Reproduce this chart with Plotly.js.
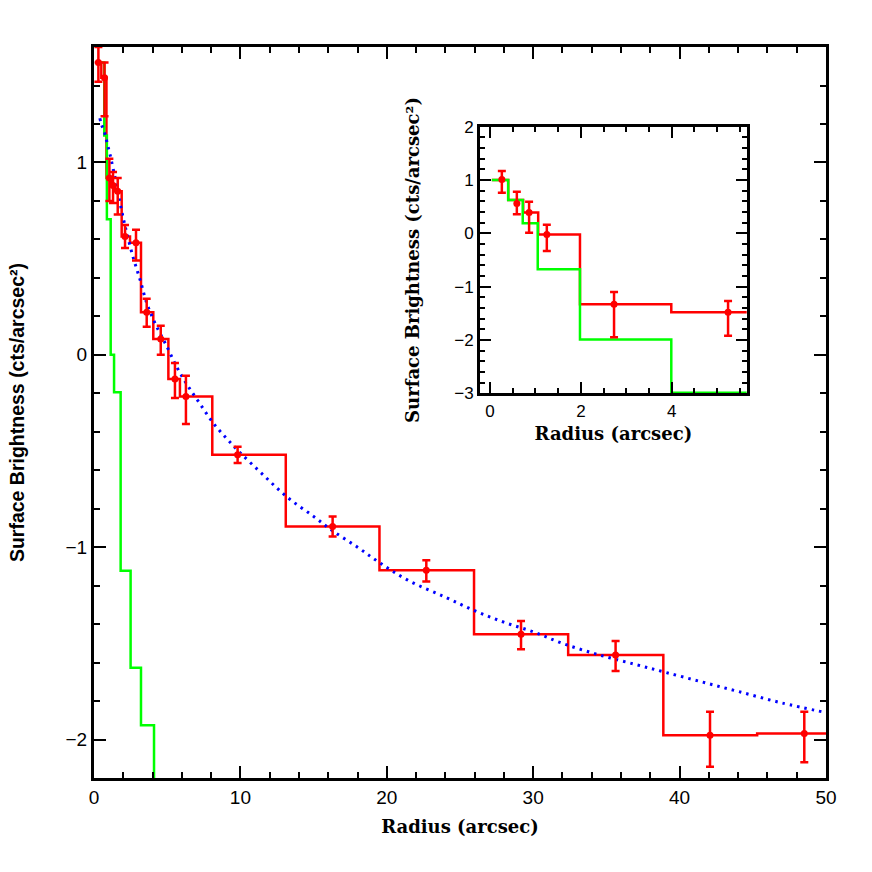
<!DOCTYPE html>
<html>
<head>
<meta charset="utf-8">
<script src="https://cdn.plot.ly/plotly-3.0.1.min.js"></script>
<style>
  html, body { margin: 0; padding: 0; background: #fff; }
  #chart { width: 872px; height: 872px; }
</style>
</head>
<body>
<div id="chart"></div>
<script>
// main panel: measured profile (red), histogram edges + level per bin
var redEdges = [0.05, 0.5, 0.85, 1.15, 1.45, 1.89, 2.46, 3.21, 4.05, 5.08, 5.87, 8.08, 13.1, 19.5, 25.96, 32.39, 38.89, 45.3, 51.7];
var redX = [0.3, 0.72, 1.05, 1.3, 1.62, 2.12, 2.87, 3.6, 4.56, 5.53, 6.28, 9.81, 16.3, 22.7, 29.17, 35.63, 42.08, 48.52];
var redY = [1.52, 1.44, 0.92, 0.88, 0.85, 0.615, 0.583, 0.222, 0.083, -0.125, -0.217, -0.52, -0.892, -1.12, -1.453, -1.561, -1.978, -1.969];
var redErrUp = [0.08, 0.08, 0.1, 0.07, 0.07, 0.06, 0.068, 0.07, 0.068, 0.083, 0.108, 0.042, 0.052, 0.052, 0.069, 0.073, 0.122, 0.113];
var redErrDn = [0.1, 0.2, 0.12, 0.09, 0.12, 0.06, 0.093, 0.076, 0.083, 0.099, 0.142, 0.042, 0.052, 0.059, 0.078, 0.083, 0.164, 0.149];

// main panel: PSF (green)
var psfEdges = [0.22, 0.7, 0.88, 1.14, 1.37, 1.82, 2.5, 3.21, 4.1, 5.0];
var psfY = [1.52, 1.14, 0.705, 0, -0.194, -1.123, -1.627, -1.926, -3.0];

// main panel: model curve (blue dotted)
var modelX = [0.4, 0.5, 0.7, 0.9, 1.1, 1.3, 1.5, 1.75, 2.0, 2.25, 2.7, 3.15, 3.6, 4.2, 5.0, 5.7, 6.4, 7.2, 8.1, 9.0, 10, 11.5, 13.2, 15, 16.3, 18, 19.5, 21.4, 24, 26, 28, 30, 32, 34.5, 37, 39, 41.5, 44, 47, 50];
var modelY = [1.23, 1.2, 1.16, 1.1, 1.04, 0.97, 0.9, 0.8, 0.71, 0.63, 0.5, 0.39, 0.27, 0.16, 0.04, -0.07, -0.16, -0.25, -0.35, -0.43, -0.51, -0.62, -0.74, -0.84, -0.915, -1.0, -1.08, -1.17, -1.26, -1.33, -1.39, -1.44, -1.5, -1.56, -1.61, -1.65, -1.7, -1.75, -1.81, -1.86];

// inset
var insRedEdges = [0.04, 0.4, 0.73, 1.06, 1.98, 3.99, 5.7];
var insRedLevels = [1.0, 0.625, 0.39, -0.02, -1.33, -1.48];
var insPsfEdges = [0.04, 0.4, 0.72, 1.05, 1.98, 3.99, 5.7];
var insPsfLevels = [1.0, 0.625, 0.19, -0.675, -1.99, -2.99];
var insX = [0.26, 0.59, 0.86, 1.25, 2.73, 5.24];
var insY = [1.01, 0.56, 0.39, -0.02, -1.33, -1.48];
var insErrUp = [0.16, 0.22, 0.2, 0.18, 0.23, 0.21];
var insErrDn = [0.25, 0.2, 0.38, 0.31, 0.62, 0.44];

function stepY(levels) { return levels.concat([levels[levels.length - 1]]); }

var RED = '#ff0000', GREEN = '#00ff00', BLUE = '#0000ff';

var data = [
  {x: redEdges, y: stepY(redY), mode: 'lines', line: {shape: 'hv', color: RED, width: 2.5}},
  {x: psfEdges, y: stepY(psfY), mode: 'lines', line: {shape: 'hv', color: GREEN, width: 2.5}},
  {x: modelX, y: modelY, mode: 'lines', line: {shape: 'spline', color: BLUE, width: 3, dash: '2.5px,5px'}},
  {x: redX, y: redY, mode: 'markers', marker: {color: RED, size: 7},
   error_y: {type: 'data', symmetric: false, array: redErrUp, arrayminus: redErrDn, color: RED, thickness: 2.5, width: 4}},

  {x: insRedEdges, y: stepY(insRedLevels), xaxis: 'x2', yaxis: 'y2', mode: 'lines', line: {shape: 'hv', color: RED, width: 2.5}},
  {x: insPsfEdges, y: stepY(insPsfLevels), xaxis: 'x2', yaxis: 'y2', mode: 'lines', line: {shape: 'hv', color: GREEN, width: 2.5}},
  {x: insX, y: insY, xaxis: 'x2', yaxis: 'y2', mode: 'markers', marker: {color: RED, size: 7},
   error_y: {type: 'data', symmetric: false, array: insErrUp, arrayminus: insErrDn, color: RED, thickness: 2.5, width: 4}}
];

var tickFont = {family: 'Liberation Sans, Arial, sans-serif', size: 19, color: '#000'};
var serifBold = {family: 'DejaVu Serif, serif', size: 18, color: '#000'};

function axis(extra) {
  var a = {
    showline: true, linecolor: '#000', linewidth: 3, mirror: 'allticks',
    ticks: 'inside', ticklen: 12, tickwidth: 2, tickcolor: '#000',
    showgrid: false, zeroline: false, tickfont: tickFont, fixedrange: true
  };
  for (var k in extra) a[k] = extra[k];
  return a;
}

var layout = {
  width: 872, height: 872,
  margin: {l: 0, r: 0, t: 0, b: 0},
  paper_bgcolor: '#fff', plot_bgcolor: '#fff',
  showlegend: false,
  xaxis: axis({domain: [0.1078, 0.9472], range: [0, 50], dtick: 10, tick0: 0,
    minor: {ticks: 'inside', ticklen: 6, tickwidth: 2, tickcolor: '#000', dtick: 2, showgrid: false},
    title: {text: '<b>Radius (arcsec)</b>', font: serifBold, standoff: 14}}),
  yaxis: axis({domain: [0.1078, 0.946], range: [-2.2, 1.6], dtick: 1, tick0: 0,
    minor: {ticks: 'inside', ticklen: 6, tickwidth: 2, tickcolor: '#000', dtick: 0.2, showgrid: false},
    title: {text: '<b>Surface Brightness (cts/arcsec\u00b2)</b>', font: {family: 'Liberation Sans, Arial, sans-serif', size: 19.5, color: '#000'}, standoff: 36}}),
  xaxis2: axis({domain: [0.5505, 0.8563], range: [-0.22, 5.65], dtick: 2, tick0: 0, anchor: 'y2',
    tickfont: {family: 'Liberation Sans, Arial, sans-serif', size: 17, color: '#000'},
    ticklen: 11,
    minor: {ticks: 'inside', ticklen: 5, tickwidth: 2, tickcolor: '#000', dtick: 0.5, showgrid: false},
    title: {text: '<b>Radius (arcsec)</b>', font: serifBold, standoff: 8}}),
  yaxis2: axis({domain: [0.549, 0.8547], range: [-3, 2], dtick: 1, tick0: 0, anchor: 'x2',
    tickfont: {family: 'Liberation Sans, Arial, sans-serif', size: 17, color: '#000'},
    ticklen: 11,
    minor: {ticks: 'inside', ticklen: 5, tickwidth: 2, tickcolor: '#000', dtick: 0.2, showgrid: false},
    title: {text: '<b>Surface Brightness (cts/arcsec\u00b2)</b>', font: serifBold, standoff: 30}})
};

Plotly.newPlot('chart', data, layout, {displayModeBar: false, staticPlot: true});
</script>
</body>
</html>
